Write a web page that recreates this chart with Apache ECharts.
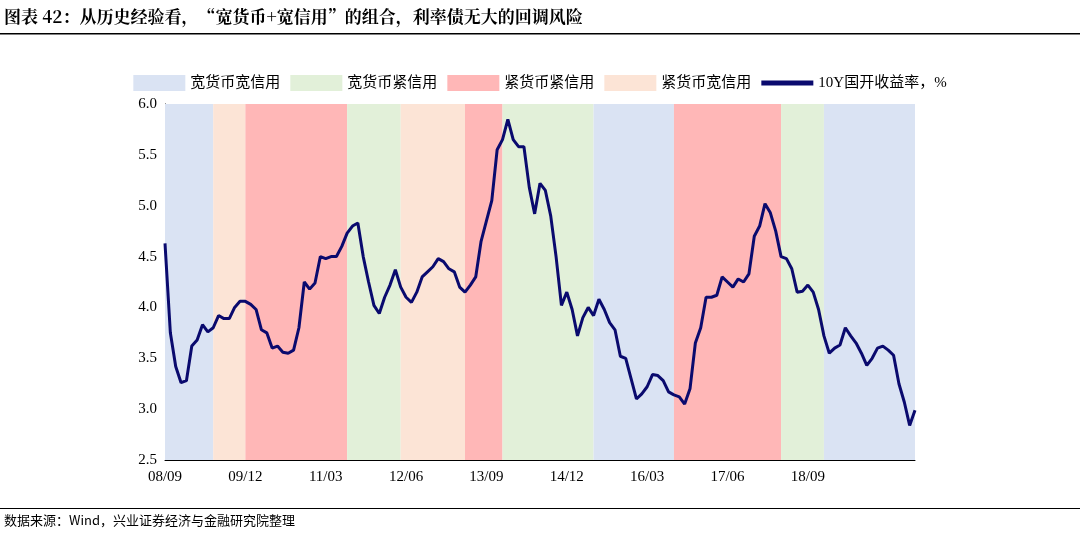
<!DOCTYPE html><html><head><meta charset="utf-8">
<script src="https://cdn.jsdelivr.net/npm/echarts@6/dist/echarts.min.js"></script>
<style>body{margin:0}#c{width:1080px;height:542px}</style></head><body><div id="c"></div>
<script>
const yields=[4.63,3.75,3.42,3.26,3.28,3.62,3.68,3.83,3.76,3.80,3.92,3.89,3.89,4.00,4.06,4.06,4.03,3.98,3.78,3.75,3.60,3.62,3.56,3.55,3.58,3.80,4.25,4.18,4.24,4.50,4.48,4.50,4.50,4.60,4.73,4.80,4.83,4.50,4.25,4.02,3.94,4.10,4.22,4.37,4.20,4.10,4.05,4.15,4.30,4.35,4.40,4.48,4.45,4.38,4.35,4.20,4.15,4.22,4.30,4.65,4.85,5.05,5.55,5.65,5.85,5.65,5.58,5.58,5.18,4.92,5.22,5.15,4.90,4.50,4.02,4.15,3.98,3.72,3.90,4.00,3.92,4.08,3.98,3.85,3.78,3.52,3.50,3.30,3.10,3.15,3.22,3.34,3.33,3.28,3.17,3.14,3.12,3.05,3.20,3.65,3.80,4.10,4.10,4.12,4.30,4.25,4.20,4.28,4.25,4.33,4.70,4.80,5.02,4.93,4.75,4.50,4.48,4.38,4.15,4.16,4.22,4.15,3.98,3.72,3.55,3.60,3.63,3.80,3.72,3.65,3.55,3.43,3.50,3.60,3.62,3.58,3.53,3.25,3.07,2.84,2.99];
const months=[];for(let i=0;i<yields.length;i++){const t=2008*12+8+i;const y=Math.floor(t/12),m=t%12+1;months.push(String(y%100).padStart(2,'0')+'/'+String(m).padStart(2,'0'));}
const regimeNames=['宽货币宽信用','宽货币紧信用','紧货币紧信用','紧货币宽信用'];
const regimeColors=['#dae3f3','#e2f0d9','#ffb7b7','#fce4d6'];
const bands=[[0,9,0],[9,15,3],[15,34,2],[34,44,1],[44,56,3],[56,63,2],[63,80,1],[80,95,0],[95,115,2],[115,123,1],[123,140,0]];
const lineName='10Y国开收益率，%';
const ch=echarts.init(document.getElementById('c'));
const series=regimeNames.map((n,k)=>({name:n,type:'bar',data:[],itemStyle:{color:regimeColors[k]}}));
series.push({name:lineName,type:'line',data:yields,symbol:'none',lineStyle:{color:'#0a0a6e',width:3},itemStyle:{color:'#0a0a6e'},z:5,
 markArea:{silent:true,data:bands.map(b=>[{xAxis:months[b[0]],itemStyle:{color:regimeColors[b[2]],opacity:1}},{xAxis:months[b[1]]}])}});
ch.setOption({
 animation:false,
 textStyle:{fontFamily:'Liberation Serif, Noto Sans CJK SC'},
 grid:{left:165,right:165,top:104,bottom:82},
 legend:{top:70,left:'center',itemWidth:52,itemHeight:16,itemGap:10,textStyle:{fontSize:15,color:'#000',fontFamily:'Liberation Serif, Noto Sans CJK SC'},
  data:[...regimeNames.map(n=>({name:n,icon:'rect'})),{name:lineName,icon:'path://M0,0 L40,0 L40,4 L0,4 Z',itemStyle:{color:'#0a0a6e'}}]},
 xAxis:{type:'category',data:months,boundaryGap:false,axisLine:{lineStyle:{color:'#000'}},axisTick:{show:false},
  axisLabel:{interval:(i)=>i%15===0,color:'#000',fontSize:15,margin:10,showMaxLabel:false,hideOverlap:false}},
 yAxis:{type:'value',min:2.5,max:6.0,interval:0.5,axisLine:{show:true,lineStyle:{color:'#000'}},axisTick:{show:true,inside:true,lineStyle:{color:'#000'}},splitLine:{show:false},
  axisLabel:{color:'#000',fontSize:15,formatter:v=>v.toFixed(1)}},
 graphic:[
  {type:'text',left:4,top:8,style:{text:'图表 42：从历史经验看，“宽货币+宽信用”的组合，利率债无大的回调风险',font:'bold 17px "Noto Serif CJK SC","Noto Sans CJK SC"',fill:'#000'}},
  {type:'rect',shape:{x:0,y:33,width:1080,height:1.5},style:{fill:'#000'}},
  {type:'rect',shape:{x:0,y:508,width:1080,height:1},style:{fill:'#000'}},
  {type:'text',left:4,top:514,style:{text:'数据来源：Wind，兴业证券经济与金融研究院整理',font:'13px "Noto Sans CJK SC"',fill:'#000'}}
 ],
 series
});
</script></body></html>
